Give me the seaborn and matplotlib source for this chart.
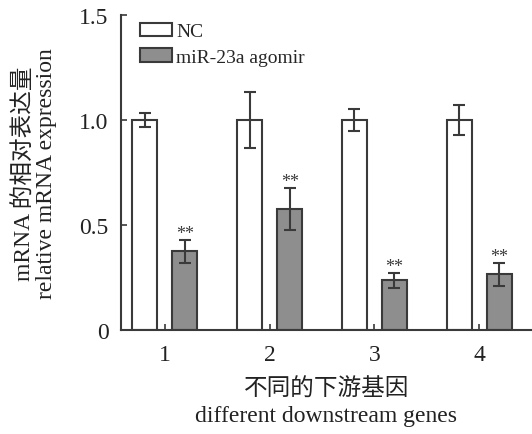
import numpy as np
import pandas as pd
import seaborn as sns
import matplotlib.pyplot as plt

# =========================
# data
# =========================
genes = ["1", "2", "3", "4"]
groups = ["NC", "miR-23a agomir"]
nc_mean = [1.00, 1.00, 1.00, 1.00]
nc_err = [0.035, 0.135, 0.052, 0.070]
ago_mean = [0.375, 0.578, 0.237, 0.265]
ago_err = [0.055, 0.100, 0.035, 0.055]
stars = ["**", "**", "**", "**"]

df = pd.DataFrame({
    "gene": genes * 2,
    "group": [groups[0]] * 4 + [groups[1]] * 4,
    "value": nc_mean + ago_mean,
    "err": nc_err + ago_err,
})

sns.set_style("ticks")
plt.rcParams["font.family"] = ["Liberation Serif", "Noto Sans CJK SC"]
edge = "#3a3a3a"
txt = "#222222"

fig = plt.figure(figsize=(5.32, 4.35), dpi=100)
ax = fig.add_axes([0.2274, 0.239, 0.7726, 0.724])

sns.barplot(
    data=df, x="gene", y="value", hue="group", order=genes, hue_order=groups,
    palette=["white", "#8e8e8e"], width=0.764, gap=0.375, errorbar=None,
    edgecolor=edge, linewidth=1.5, ax=ax,
)

# error bars on top of the patches, one group at a time
bar_containers = list(ax.containers)
for gi, cont in enumerate(bar_containers):
    sub = df[df["group"] == groups[gi]]
    xs = [p.get_x() + p.get_width() / 2 for p in cont.patches]
    ax.errorbar(xs, sub["value"], yerr=sub["err"], fmt="none", ecolor=edge,
                elinewidth=1.5, capsize=4.5, capthick=1.5, zorder=5)
    if gi == 1:
        for x, v, e, s in zip(xs, sub["value"], sub["err"], stars):
            ax.text(x, v + e - 0.01, s, ha="center", va="bottom",
                    fontsize=13, color=edge)

ax.set_xlim(-0.42, 3.506)
ax.set_ylim(0, 1.5)
ax.set_yticks([0, 0.5, 1.0, 1.5])
ax.set_yticklabels(["0", "0.5", "1.0", "1.5"])
ax.tick_params(direction="in", length=4, width=1.2, colors=edge,
               labelsize=17, labelcolor=txt)
ax.tick_params(axis="x", pad=10)
ax.tick_params(axis="y", pad=9)
for s in ["top", "right"]:
    ax.spines[s].set_visible(False)
for s in ["left", "bottom"]:
    ax.spines[s].set_color(edge)
    ax.spines[s].set_linewidth(1.5)

ax.set_xlabel("不同的下游基因\ndifferent downstream genes", fontsize=17,
              color=txt, labelpad=9, linespacing=1.35)
ax.set_ylabel("mRNA 的相对表达量\nrelative mRNA expression", fontsize=17,
              color=txt, linespacing=1.05)
ax.yaxis.set_label_coords(-0.155, 0.5)

ax.legend(loc="upper left", bbox_to_anchor=(0.028, 1.0), frameon=False,
          fontsize=14, handlelength=1.65, handleheight=0.7,
          handletextpad=0.2, labelspacing=0.4, borderaxespad=0.0)

fig.savefig("out.png", dpi=100)
plt.close(fig)
